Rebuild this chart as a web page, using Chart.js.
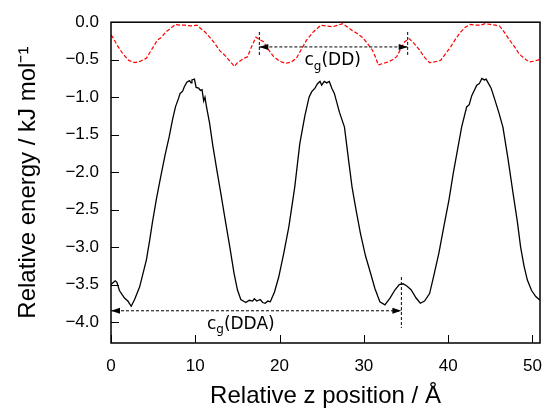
<!DOCTYPE html>
<html>
<head>
<meta charset="utf-8">
<script src="https://cdn.jsdelivr.net/npm/chart.js@4.4.1/dist/chart.umd.min.js"></script>
<style>
    html, body { margin: 0; padding: 0; background: #fff; }
    #wrap { width: 555px; height: 411px; }
</style>
</head>
<body>
<div id="wrap"><canvas id="energyChart" width="555" height="411"></canvas></div>
<script>
// Black curve: DDA energy profile
const blackX = [0.0, 0.2, 0.5, 0.7, 1.0, 1.3, 1.6, 2.0, 2.4, 2.8, 3.4, 3.8, 4.2, 4.6, 4.9, 5.4, 5.9, 6.4, 6.9, 7.3,
    7.65, 8.0, 8.2, 8.5, 8.7, 9.0, 9.3, 9.5, 9.6, 9.9, 10.1, 10.4, 10.6, 10.8, 11.0, 11.15, 11.3, 11.7, 12.1, 12.6,
    13.1, 13.6, 14.1, 14.6, 15.0, 15.4, 16.0, 16.4, 16.8, 17.0, 17.3, 17.7, 18.0, 18.3, 18.6, 18.9, 19.4, 19.9, 20.5, 21.1,
    21.8, 22.4, 23.0, 23.5, 23.8, 24.2, 24.5, 24.8, 25.0, 25.3, 25.6, 25.9, 26.2, 26.5, 27.1, 27.4, 27.7, 28.2, 28.6, 29.1,
    29.6, 30.2, 30.8, 31.3, 31.9, 32.5, 33.1, 33.7, 34.2, 34.65, 35.1, 35.6, 36.2, 36.7, 37.2, 37.8, 38.3, 38.9, 39.5, 40.1,
    40.6, 41.1, 41.6, 42.2, 42.5, 42.8, 43.4, 43.7, 44.0, 44.3, 44.5, 44.8, 45.1, 45.5, 46.0, 46.5, 47.1, 47.7, 48.2, 48.6,
    49.0, 49.4, 49.9, 50.4, 50.9];
const blackY = [-3.50, -3.48, -3.45, -3.47, -3.58, -3.63, -3.68, -3.72, -3.79, -3.70, -3.53, -3.35, -3.17, -2.90, -2.68, -2.35, -2.06, -1.78, -1.53, -1.30,
    -1.13, -1.02, -0.95, -0.92, -0.86, -0.80, -0.78, -0.81, -0.77, -0.76, -0.87, -0.88, -0.91, -0.90, -1.05, -1.00, -1.11, -1.35, -1.66, -2.00,
    -2.33, -2.67, -3.00, -3.35, -3.57, -3.70, -3.74, -3.71, -3.72, -3.69, -3.72, -3.70, -3.74, -3.75, -3.72, -3.73, -3.60, -3.40, -3.08, -2.73,
    -2.20, -1.62, -1.25, -1.00, -0.93, -0.88, -0.82, -0.79, -0.84, -0.79, -0.81, -0.79, -0.88, -0.95, -1.20, -1.30, -1.40, -1.85, -2.20, -2.52,
    -2.82, -3.12, -3.35, -3.55, -3.73, -3.77, -3.68, -3.57, -3.50, -3.49, -3.52, -3.57, -3.68, -3.75, -3.72, -3.62, -3.38, -3.08, -2.72, -2.37,
    -2.02, -1.71, -1.40, -1.13, -1.10, -0.98, -0.84, -0.82, -0.75, -0.77, -0.76, -0.82, -0.88, -1.02, -1.20, -1.40, -1.82, -2.28, -2.65, -3.00,
    -3.25, -3.44, -3.58, -3.66, -3.71];

// Red dashed curve: DD energy profile
const redX = [0.0, 0.2, 0.8, 1.4, 2.1, 2.8, 3.5, 4.2, 4.8, 5.5, 6.0, 6.5, 7.1, 7.65, 8.2, 8.8, 9.5, 10.2, 10.7, 11.15,
    11.7, 12.3, 12.9, 13.5, 14.1, 14.65, 15.0, 15.4, 15.8, 16.2, 16.7, 17.2, 17.6, 18.1, 18.7, 19.3, 20.0, 20.7, 21.4, 22.0,
    22.6, 23.2, 24.0, 24.9, 25.6, 26.3, 26.9, 27.5, 28.0, 28.6, 29.2, 29.8, 30.4, 31.0, 31.4, 31.7, 32.3, 32.9, 33.4, 33.9,
    34.4, 34.85, 35.4, 36.0, 36.6, 37.2, 37.8, 38.4, 39.1, 39.7, 40.3, 40.9, 41.5, 42.0, 42.6, 43.2, 43.8, 44.4, 45.0, 45.6,
    46.1, 46.7, 47.3, 47.9, 48.4, 49.0, 49.6, 50.2, 50.8];
const redY = [-0.17, -0.20, -0.32, -0.42, -0.51, -0.54, -0.52, -0.48, -0.37, -0.24, -0.20, -0.13, -0.08, -0.03, -0.04, -0.04, -0.05, -0.04, -0.09, -0.13,
    -0.20, -0.28, -0.38, -0.44, -0.52, -0.59, -0.54, -0.51, -0.48, -0.46, -0.32, -0.20, -0.23, -0.26, -0.37, -0.46, -0.52, -0.55, -0.53, -0.48,
    -0.36, -0.24, -0.13, -0.04, -0.05, -0.06, -0.04, -0.02, -0.06, -0.11, -0.15, -0.20, -0.28, -0.37, -0.47, -0.57, -0.55, -0.53, -0.50, -0.46,
    -0.35, -0.26, -0.22, -0.29, -0.37, -0.47, -0.54, -0.53, -0.51, -0.42, -0.33, -0.22, -0.13, -0.07, -0.03, -0.04, -0.04, -0.02, -0.03, -0.04,
    -0.05, -0.14, -0.24, -0.33, -0.42, -0.48, -0.53, -0.52, -0.50];

const xTicks = [0, 10, 20, 30, 40, 50];
const yTicks = [-4.0, -3.5, -3.0, -2.5, -2.0, -1.5, -1.0, -0.5, 0.0];

// Periodicity markers (data units)
const ddStart = 17.6, ddEnd = 35.2, ddArrowY = -0.33, ddMarkTop = -0.13, ddMarkBottom = -0.44;
const ddaStart = 0, ddaEnd = 34.45, ddaArrowY = -3.85, ddaMarkTop = -3.40, ddaMarkBottom = -4.08;
const ddLabel = { x: 26.3, y: -0.51, sub: 'g', text: '(DD)' };
const ddaLabel = { x: 15.4, y: -4.03, sub: 'g', text: '(DDA)' };

const AXIS_FONT = "'Liberation Sans', Arial, sans-serif";
const NOTE_FONT = "'DejaVu Sans', sans-serif";

function toPoints(xs, ys) {
    return xs.map((x, i) => ({ x: x, y: ys[i] }));
}

function minusSign(v) {
    return String(v).replace('-', '\u2212');
}

// Frame around the plot plus inward tick marks
const framePlugin = {
    id: 'frame',
    afterDatasetsDraw(chart) {
        const { ctx, chartArea: a, scales } = chart;
        ctx.save();
        ctx.strokeStyle = '#000';
        ctx.lineWidth = 1;
        scales.y.ticks.forEach(t => {
            const py = Math.round(scales.y.getPixelForValue(t.value)) + 0.5;
            ctx.beginPath();
            ctx.moveTo(a.left, py);
            ctx.lineTo(a.left + 8, py);
            ctx.stroke();
        });
        scales.x.ticks.forEach(t => {
            const px = Math.round(scales.x.getPixelForValue(t.value)) + 0.5;
            ctx.beginPath();
            ctx.moveTo(px, a.bottom);
            ctx.lineTo(px, a.bottom - 8);
            ctx.stroke();
        });
        ctx.lineWidth = 1.5;
        ctx.strokeRect(a.left, a.top, a.right - a.left, a.bottom - a.top);
        ctx.restore();
    }
};

function arrowHead(ctx, x, y, dir) {
    ctx.beginPath();
    ctx.moveTo(x, y);
    ctx.lineTo(x - dir * 9, y - 3);
    ctx.lineTo(x - dir * 9, y + 3);
    ctx.closePath();
    ctx.fill();
}

function dashedLine(ctx, x1, y1, x2, y2) {
    ctx.beginPath();
    ctx.moveTo(x1, y1);
    ctx.lineTo(x2, y2);
    ctx.stroke();
}

function drawSpan(ctx, sx, sy, x1, x2, yArrow, marks) {
    const px1 = sx.getPixelForValue(x1);
    const px2 = sx.getPixelForValue(x2);
    const py = sy.getPixelForValue(yArrow);
    ctx.setLineDash([3, 2]);
    dashedLine(ctx, px1, py, px2, py);
    marks.forEach(m => {
        const px = sx.getPixelForValue(m.x);
        dashedLine(ctx, px, sy.getPixelForValue(m.top), px, sy.getPixelForValue(m.bottom));
    });
    ctx.setLineDash([]);
    arrowHead(ctx, px1, py, -1);
    arrowHead(ctx, px2, py, 1);
}

function drawLabel(ctx, sx, sy, label) {
    const cx = sx.getPixelForValue(label.x);
    const cy = sy.getPixelForValue(label.y);
    ctx.font = '17px ' + NOTE_FONT;
    const wc = ctx.measureText('c').width;
    const wt = ctx.measureText(label.text).width;
    ctx.font = '12px ' + NOTE_FONT;
    const ws = ctx.measureText(label.sub).width;
    let x = cx - (wc + ws + wt) / 2;
    ctx.textBaseline = 'middle';
    ctx.textAlign = 'left';
    ctx.font = '17px ' + NOTE_FONT;
    ctx.fillText('c', x, cy);
    ctx.font = '12px ' + NOTE_FONT;
    ctx.fillText(label.sub, x + wc, cy + 6);
    ctx.font = '17px ' + NOTE_FONT;
    ctx.fillText(label.text, x + wc + ws, cy);
}

const notePlugin = {
    id: 'notes',
    afterDatasetsDraw(chart) {
        const { ctx, scales } = chart;
        const sx = scales.x, sy = scales.y;
        ctx.save();
        ctx.strokeStyle = '#000';
        ctx.fillStyle = '#000';
        ctx.lineWidth = 1;
        drawSpan(ctx, sx, sy, ddStart, ddEnd, ddArrowY, [
            { x: ddStart, top: ddMarkTop, bottom: ddMarkBottom },
            { x: ddEnd, top: ddMarkTop, bottom: ddMarkBottom }
        ]);
        drawSpan(ctx, sx, sy, ddaStart, ddaEnd, ddaArrowY, [
            { x: ddaEnd, top: ddaMarkTop, bottom: ddaMarkBottom }
        ]);
        drawLabel(ctx, sx, sy, ddLabel);
        drawLabel(ctx, sx, sy, ddaLabel);
        ctx.restore();
    }
};

document.addEventListener('DOMContentLoaded', function() {
    const ctx = document.getElementById('energyChart');

    new Chart(ctx, {
        type: 'line',
        data: {
            datasets: [{
                label: 'DD',
                data: toPoints(redX, redY),
                borderColor: '#ff0000',
                borderWidth: 1.2,
                borderDash: [4, 2],
                pointRadius: 0,
                tension: 0
            }, {
                label: 'DDA',
                data: toPoints(blackX, blackY),
                borderColor: '#000000',
                borderWidth: 1.3,
                pointRadius: 0,
                tension: 0
            }]
        },
        options: {
            responsive: false,
            animation: false,
            layout: { padding: { top: 22, right: 7, left: 0, bottom: 0 } },
            plugins: {
                legend: { display: false },
                tooltip: { enabled: false }
            },
            scales: {
                x: {
                    type: 'linear',
                    min: 0,
                    max: 50.9,
                    afterFit: scale => { scale.height = 68; },
                    afterBuildTicks: axis => { axis.ticks = xTicks.map(v => ({ value: v })); },
                    grid: { display: false, drawTicks: false },
                    border: { display: false },
                    ticks: {
                        color: '#000',
                        padding: 13,
                        maxRotation: 0,
                        font: { family: AXIS_FONT, size: 17 },
                        callback: v => String(v)
                    },
                    title: {
                        display: true,
                        text: 'Relative z position / \u00c5',
                        color: '#000',
                        padding: { top: 0, bottom: 0 },
                        font: { family: AXIS_FONT, size: 24 }
                    }
                },
                y: {
                    type: 'linear',
                    min: -4.28,
                    max: 0,
                    afterFit: scale => { scale.width = 111; },
                    afterBuildTicks: axis => { axis.ticks = yTicks.map(v => ({ value: v })); },
                    grid: { display: false, drawTicks: false },
                    border: { display: false },
                    ticks: {
                        color: '#000',
                        padding: 12,
                        font: { family: AXIS_FONT, size: 17 },
                        callback: v => minusSign(Number(v).toFixed(1))
                    },
                    title: {
                        display: true,
                        text: 'Relative energy / kJ mol\u207b\u00b9',
                        color: '#000',
                        padding: { top: 14, bottom: 0 },
                        font: { family: AXIS_FONT, size: 24 }
                    }
                }
            }
        },
        plugins: [framePlugin, notePlugin]
    });
});
</script>
</body>
</html>
